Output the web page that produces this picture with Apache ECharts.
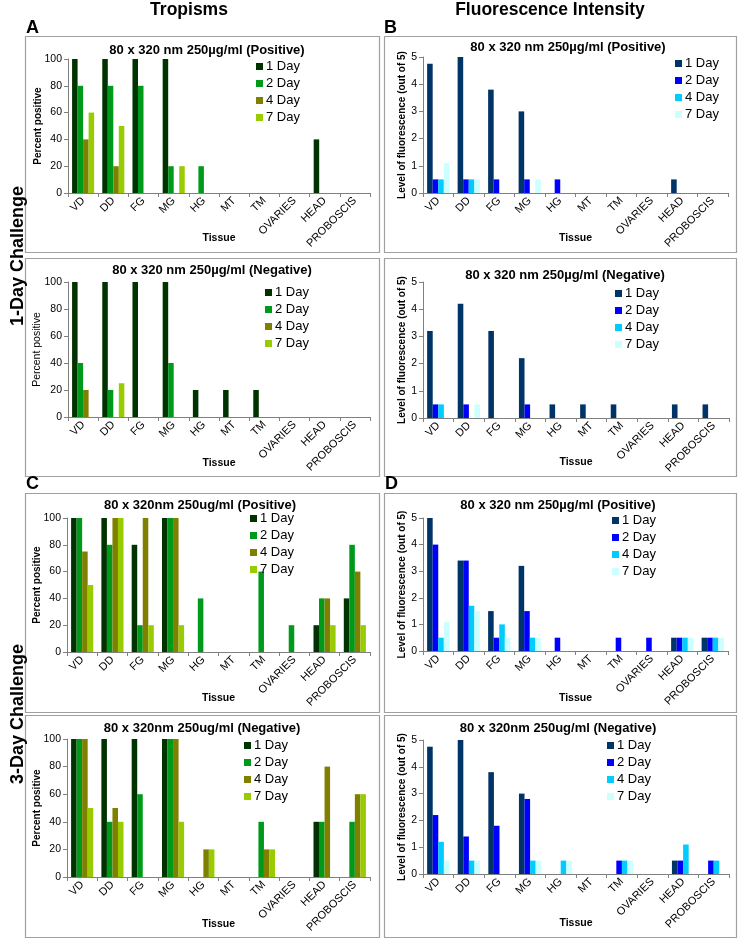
<!DOCTYPE html>
<html><head><meta charset="utf-8">
<script src="https://cdn.jsdelivr.net/npm/echarts@6/dist/echarts.min.js"></script>
<style>html,body{margin:0;padding:0;background:#fff}#c{width:740px;height:940px}</style>
</head><body><div id="c"></div>
<script>
const categories = ['VD','DD','FG','MG','HG','MT','TM','OVARIES','HEAD','PROBOSCIS'];
const days = ['1 Day','2 Day','4 Day','7 Day'];
const tropismTicks = {min:0, max:100, interval:20};
const fluorTicks = {min:0, max:5, interval:1};

// A: Tropisms, 1-Day challenge (rows = 1,2,4,7 Day)
const tropism1DayPositive = [
  [100,100,100,100,0,0,0,0,40,0],
  [80,80,80,20,20,0,0,0,0,0],
  [40,20,0,0,0,0,0,0,0,0],
  [60,50,0,20,0,0,0,0,0,0]
];
const tropism1DayNegative = [
  [100,100,100,100,20,20,20,0,0,0],
  [40,20,0,40,0,0,0,0,0,0],
  [20,0,0,0,0,0,0,0,0,0],
  [0,25,0,0,0,0,0,0,0,0]
];
// B: Fluorescence, 1-Day challenge
const fluor1DayPositive = [
  [4.75,5,3.8,3,0,0,0,0,0.5,0],
  [0.5,0.5,0.5,0.5,0.5,0,0,0,0,0],
  [0.5,0.5,0,0,0,0,0,0,0,0],
  [1.1,0.5,0,0.5,0,0,0,0,0,0]
];
const fluor1DayNegative = [
  [3.2,4.2,3.2,2.2,0.5,0.5,0.5,0,0.5,0.5],
  [0.5,0.5,0,0.5,0,0,0,0,0,0],
  [0.5,0,0,0,0,0,0,0,0,0],
  [0,0.5,0,0,0,0,0,0,0,0]
];
// C: Tropisms, 3-Day challenge
const tropism3DayPositive = [
  [100,100,80,100,0,0,0,0,20,40],
  [100,80,20,100,40,0,60,20,40,80],
  [75,100,100,100,0,0,0,0,40,60],
  [50,100,20,20,0,0,0,0,20,20]
];
const tropism3DayNegative = [
  [100,100,100,100,0,0,0,0,40,0],
  [100,40,60,100,0,0,40,0,40,40],
  [100,50,0,100,20,0,20,0,80,60],
  [50,40,0,40,20,0,20,0,0,60]
];
// D: Fluorescence, 3-Day challenge
const fluor3DayPositive = [
  [5,3.4,1.5,3.2,0,0,0,0,0.5,0.5],
  [4,3.4,0.5,1.5,0.5,0,0.5,0.5,0.5,0.5],
  [0.5,1.7,1,0.5,0,0,0,0,0.5,0.5],
  [1.1,1.5,0.5,0.5,0,0,0,0,0.5,0.5]
];
const fluor3DayNegative = [
  [4.75,5,3.8,3,0,0,0,0,0.5,0],
  [2.2,1.4,1.8,2.8,0,0,0.5,0,0.5,0.5],
  [1.2,0.5,0,0.5,0.5,0,0.5,0,1.1,0.5],
  [0.5,0.5,0,0.5,0.5,0,0.5,0,0,0]
];

const greens = ['#003300','#009a1a','#808000','#99cc00'];
const blues = ['#003366','#0000ff','#00ccff','#ccffff'];
const FONT = "Arial, 'Liberation Sans', sans-serif";

const panels = [
  {id:'A1', data:tropism1DayPositive, colors:greens, ticks:tropismTicks, title:'80 x 320 nm 250µg/ml (Positive)', ylab:'Percent positive', ybold:true,
   grid:{left:68,top:59,width:302,height:134}, titlePos:[207,50], legendPos:[256,60], gap:25, xgap:40},
  {id:'A2', data:tropism1DayNegative, colors:greens, ticks:tropismTicks, title:'80 x 320 nm 250µg/ml (Negative)', ylab:'Percent positive', ybold:false,
   grid:{left:68,top:282,width:302,height:135}, titlePos:[212,270], legendPos:[265,286], gap:25, xgap:41},
  {id:'B1', data:fluor1DayPositive, colors:blues, ticks:fluorTicks, title:'80 x 320 nm 250µg/ml (Positive)', ylab:'Level of fluorescence (out of 5)', ybold:true,
   grid:{left:423,top:57,width:305,height:136}, titlePos:[568,47], legendPos:[675,57], gap:16, xgap:40},
  {id:'B2', data:fluor1DayNegative, colors:blues, ticks:fluorTicks, title:'80 x 320 nm 250µg/ml (Negative)', ylab:'Level of fluorescence (out of 5)', ybold:true,
   grid:{left:423,top:282,width:306,height:136}, titlePos:[565,275], legendPos:[615,287], gap:16, xgap:39},
  {id:'C1', data:tropism3DayPositive, colors:greens, ticks:tropismTicks, title:'80 x 320nm 250ug/ml (Positive)', ylab:'Percent positive', ybold:true,
   grid:{left:67,top:518,width:303,height:134}, titlePos:[200,505], legendPos:[250,512], gap:25, xgap:41},
  {id:'D1', data:fluor3DayPositive, colors:blues, ticks:fluorTicks, title:'80 x 320 nm 250µg/ml (Positive)', ylab:'Level of fluorescence (out of 5)', ybold:true,
   grid:{left:423,top:518,width:305,height:133}, titlePos:[558,505], legendPos:[612,514], gap:16, xgap:42},
  {id:'C2', data:tropism3DayNegative, colors:greens, ticks:tropismTicks, title:'80 x 320nm 250ug/ml (Negative)', ylab:'Percent positive', ybold:true,
   grid:{left:67,top:739,width:303,height:138}, titlePos:[202,728], legendPos:[244,739], gap:25, xgap:42},
  {id:'D2', data:fluor3DayNegative, colors:blues, ticks:fluorTicks, title:'80 x 320nm 250ug/ml (Negative)', ylab:'Level of fluorescence (out of 5)', ybold:true,
   grid:{left:423,top:740,width:306,height:134}, titlePos:[558,728], legendPos:[607,739], gap:16, xgap:44}
];

const boxes = [
  [25,36,354,216],[384,36,352,216],
  [25,258,354,218],[384,258,352,218],
  [25,493,354,219],[384,493,352,219],
  [25,715,354,222],[384,715,352,222]
];

const option = {
  animation:false,
  backgroundColor:'#fff',
  textStyle:{fontFamily:FONT},
  grid:[], xAxis:[], yAxis:[], series:[], legend:[], title:[], graphic:[]
};

boxes.forEach(b=>option.graphic.push({type:'rect', shape:{x:b[0]+0.5,y:b[1]+0.5,width:b[2],height:b[3]}, style:{fill:'none',stroke:'#a0a0a0',lineWidth:1.2}, z:-1}));

const headerTexts = [
  {t:'Tropisms', x:189, y:10, s:17.5, align:'center'},
  {t:'Fluorescence Intensity', x:550, y:10, s:17.5, align:'center'},
  {t:'A', x:26, y:28, s:18, align:'left'},
  {t:'B', x:384, y:28, s:18, align:'left'},
  {t:'C', x:26, y:484, s:18, align:'left'},
  {t:'D', x:385, y:484, s:18, align:'left'}
];
headerTexts.forEach(h=>option.graphic.push({type:'text', x:h.x, y:h.y, style:{text:h.t, font:'bold '+h.s+'px '+FONT, fill:'#000', textAlign:h.align, textVerticalAlign:'middle'}}));
[['1-Day Challenge',256],['3-Day Challenge',714]].forEach(r=>option.graphic.push({type:'text', x:18, y:r[1], rotation:Math.PI/2,
  style:{text:r[0], font:'bold 18px '+FONT, fill:'#000', textAlign:'center', textVerticalAlign:'middle'}}));

panels.forEach((p,i)=>{
  option.grid.push(Object.assign({containLabel:false}, p.grid));
  option.xAxis.push({type:'category', gridIndex:i, data:categories,
    name:'Tissue', nameLocation:'middle', nameGap:p.xgap, nameMoveOverlap:false,
    nameTextStyle:{fontSize:10.5, fontWeight:'bold', color:'#000', fontFamily:FONT},
    axisLine:{lineStyle:{color:'#808080', width:1}},
    axisTick:{show:true, length:4, inside:false, alignWithLabel:false, lineStyle:{color:'#808080'}},
    axisLabel:{interval:0, rotate:45, fontSize:11, color:'#000', margin:6, fontFamily:FONT},
    splitLine:{show:false}});
  option.yAxis.push({type:'value', gridIndex:i, min:p.ticks.min, max:p.ticks.max, interval:p.ticks.interval,
    name:p.ylab, nameLocation:'middle', nameGap:p.gap, nameMoveOverlap:false,
    nameTextStyle:{fontSize:p.ybold?10:10.5, fontWeight:p.ybold?'bold':'normal', color:'#000', fontFamily:FONT},
    axisLine:{show:true, lineStyle:{color:'#808080', width:1}},
    axisTick:{show:true, length:4, lineStyle:{color:'#808080'}},
    axisLabel:{fontSize:10.5, color:'#000', margin:6, fontFamily:FONT},
    splitLine:{show:false}});
  const names = [];
  p.data.forEach((vals,k)=>{
    const nm = p.id+'|'+days[k];
    names.push(nm);
    option.series.push({type:'bar', name:nm, xAxisIndex:i, yAxisIndex:i, data:vals,
      barGap:'0%', barCategoryGap:'27%',
      itemStyle:{color:p.colors[k]}});
  });
  option.legend.push({data:names.map(n=>({name:n})), orient:'vertical', left:p.legendPos[0], top:p.legendPos[1],
    icon:'rect', itemWidth:7, itemHeight:7, itemGap:4, padding:0,
    formatter:n=>n.split('|')[1],
    textStyle:{fontSize:13, color:'#000', fontFamily:FONT, lineHeight:13, padding:[0,0,0,-2]}});
  option.title.push({text:p.title, left:p.titlePos[0], top:p.titlePos[1], textAlign:'center', textVerticalAlign:'middle', padding:0,
    textStyle:{fontSize:13, fontWeight:'bold', color:'#000', fontFamily:FONT}});
});

const chart = echarts.init(document.getElementById('c'), null, {renderer:'canvas'});
chart.setOption(option);
</script></body></html>
